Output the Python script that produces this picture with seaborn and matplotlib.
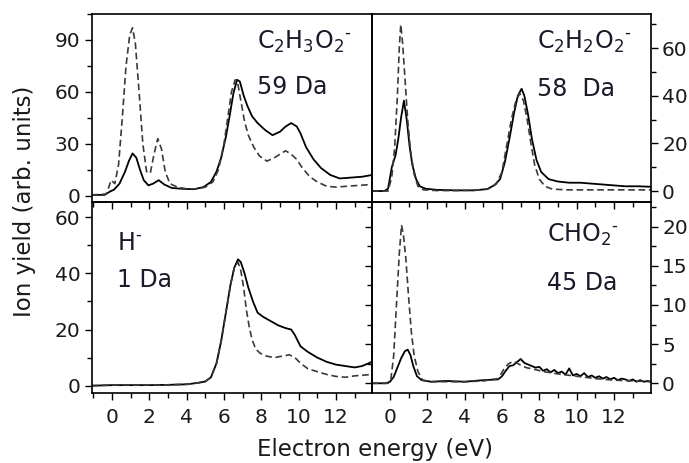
import matplotlib
matplotlib.use("Agg")
import matplotlib.pyplot as plt
import seaborn as sns
from matplotlib.ticker import MultipleLocator

# ---------------- data ----------------
# C2H3O2-  (59 Da), top-left
c2h3o2_solid_x = [-1.1, -0.4, -0.1, 0.1, 0.4, 0.7, 0.9, 1.1, 1.3, 1.5,
                  1.7, 1.95, 2.2, 2.5, 2.8, 3.2, 3.8, 4.4, 4.9, 5.3,
                  5.6, 5.85, 6.1, 6.3, 6.5, 6.7, 6.85, 7.05, 7.25, 7.5,
                  7.8, 8.2, 8.6, 9.0, 9.3, 9.6, 9.9, 10.1, 10.4, 10.8,
                  11.2, 11.7, 12.2, 12.8, 13.4, 13.93]
c2h3o2_solid_y = [0.5, 0.5, 2.5, 3.5, 7, 14, 20, 24.5, 22, 15,
                  9, 6, 7, 9, 6.5, 4.5, 4, 3.8, 5, 8,
                  14, 22, 34, 46, 59, 67, 66, 58, 52, 46,
                  42, 38, 35, 37, 40, 42, 40, 36, 28, 21,
                  16, 12, 10, 10.5, 11, 12]
c2h3o2_dash_x = [-1.1, -0.3, -0.05, 0.15, 0.35, 0.55, 0.75, 0.95, 1.1, 1.25,
                 1.45, 1.65, 1.85, 2.05, 2.25, 2.45, 2.65, 2.85, 3.1, 3.5,
                 4.0, 4.5, 5.0, 5.4, 5.7, 6.0, 6.2, 6.4, 6.6, 6.72,
                 6.9, 7.1, 7.3, 7.6, 7.9, 8.3, 8.7, 9.0, 9.3, 9.6,
                 9.9, 10.2, 10.6, 11.0, 11.5, 12.0, 12.6, 13.2, 13.93]
c2h3o2_dash_y = [0.5, 1, 9, 7, 18, 45, 75, 93, 97, 88,
                 60, 30, 14, 13, 24, 33, 27, 14, 7, 5,
                 4, 4, 5, 8, 15, 30, 45, 60, 67, 66,
                 55, 43, 35, 28, 23, 20, 22, 24, 26, 24,
                 21, 16, 11, 8, 5.5, 5, 5.5, 6, 6.5]

# C2H2O2-  (58 Da), top-right
c2h2o2_solid_x = [-0.96, -0.3, -0.1, 0.1, 0.3, 0.45, 0.6, 0.75, 0.9, 1.05,
                  1.2, 1.4, 1.6, 1.9, 2.5, 3.5, 4.5, 5.2, 5.6, 5.9,
                  6.15, 6.4, 6.65, 6.85, 7.05, 7.2, 7.4, 7.6, 7.85, 8.1,
                  8.5, 9.0, 9.6, 10.2, 11.0, 11.8, 12.6, 13.3, 13.98]
c2h2o2_solid_y = [0, 0, 1, 10, 15, 22, 31, 38, 30, 19,
                  11, 5, 2, 1, 0.5, 0.3, 0.3, 0.8, 2.5, 5,
                  12, 22, 33, 40, 43, 40, 32, 22, 13, 8,
                  5, 4, 3.5, 3.5, 3, 2.5, 2, 2, 1.8]
c2h2o2_dash_x = [-0.96, -0.1, 0.1, 0.25, 0.4, 0.5, 0.58, 0.68, 0.8, 0.95,
                 1.1, 1.3, 1.5, 1.8, 2.5, 3.5, 4.5, 5.3, 5.7, 6.0,
                 6.25, 6.5, 6.75, 6.95, 7.15, 7.35, 7.55, 7.75, 8.0, 8.3,
                 8.7, 9.5, 10.5, 11.5, 12.5, 13.98]
c2h2o2_dash_y = [0, 0, 6, 18, 40, 60, 70, 62, 48, 30,
                 17, 7, 2, 0.5, 0.2, 0.2, 0.3, 1, 3, 8,
                 19, 30, 38, 41, 38, 30, 20, 11, 5, 2,
                 0.8, 0.5, 0.5, 0.5, 0.5, 0.5]

# H-  (1 Da), bottom-left
h_solid_x = [-1.1, 0, 1, 2, 3, 4, 4.6, 5.0, 5.3, 5.6,
             5.85, 6.1, 6.35, 6.55, 6.75, 6.9, 7.1, 7.3, 7.55, 7.8,
             8.1, 8.5, 8.9, 9.3, 9.6, 9.8, 10.1, 10.5, 11.0, 11.5,
             12.0, 12.5, 13.0, 13.4, 13.93]
h_solid_y = [0, 0.2, 0.2, 0.2, 0.3, 0.5, 1, 1.5, 3, 8,
             16, 26, 36, 42, 45, 44, 40, 35, 30, 26,
             24.5, 23, 21.5, 20.5, 20, 18, 14, 12, 10, 8.5,
             7.5, 7, 6.5, 7, 8.5]
h_dash_x = [-1.1, 0, 1, 2, 3, 4, 4.6, 5.0, 5.3, 5.6,
            5.85, 6.1, 6.35, 6.55, 6.75, 6.9, 7.05, 7.2, 7.35, 7.5,
            7.7, 7.95, 8.3, 8.7, 9.1, 9.5, 9.8, 10.1, 10.5, 11.0,
            11.5, 12.0, 12.5, 13.0, 13.93]
h_dash_y = [0, 0.2, 0.2, 0.2, 0.3, 0.5, 1, 1.5, 3, 8,
            16, 26, 36, 42, 44, 41, 35, 27, 21, 16.5,
            13, 11.5, 10.5, 10, 10.5, 11, 10, 8, 6, 5,
            4, 3.3, 3, 3.5, 4]

# CHO2-  (45 Da), bottom-right
cho2_solid_x = [-0.96, -0.2, 0.0, 0.2, 0.4, 0.6, 0.8, 0.95, 1.1, 1.25,
                1.45, 1.7, 2.2, 3.0, 4.0, 5.0,
                5.8, 6.0, 6.2, 6.4, 6.6, 6.8, 7.0, 7.2, 7.4, 7.6,
                7.8, 8.0, 8.2, 8.4, 8.6, 8.8, 9.0, 9.2, 9.4, 9.6,
                9.8, 10.0, 10.2, 10.4, 10.6, 10.8, 11.0, 11.2, 11.4, 11.6,
                11.8, 12.0, 12.2, 12.4, 12.6, 12.8, 13.0, 13.2, 13.4, 13.6,
                13.8, 13.98]
cho2_solid_y = [0, 0, 0.2, 0.8, 2.0, 3.2, 4.1, 4.3, 3.6, 2.2,
                0.9, 0.4, 0.2, 0.3, 0.2, 0.4,
                0.5, 0.9, 1.6, 2.2, 2.3, 2.7, 3.1, 2.6, 2.4, 2.2,
                2.0, 2.1, 1.6, 1.8, 1.4, 1.7, 1.3, 1.5, 1.1, 1.9,
                1.0, 1.2, 0.9, 1.3, 0.8, 1.0, 0.7, 0.9, 0.6, 0.8,
                0.5, 0.7, 0.4, 0.6, 0.5, 0.3, 0.5, 0.2, 0.4, 0.2,
                0.3, 0.2]
cho2_dash_x = [-0.96, -0.1, 0.05, 0.2, 0.35, 0.5, 0.62, 0.72, 0.85, 1.0,
               1.15, 1.3, 1.5, 1.75, 2.2, 3, 4, 5, 5.8, 6.1,
               6.35, 6.6, 6.8, 7.0, 7.3, 7.7, 8.2, 9, 10, 11,
               12, 13, 13.98]
cho2_dash_y = [0, 0, 0.5, 3.5, 10, 16.5, 20.2, 19, 16, 11,
               6.5, 3.5, 1.5, 0.4, 0.2, 0.2, 0.2, 0.3, 0.6, 1.8,
               2.5, 2.8, 2.6, 2.3, 2.0, 1.8, 1.5, 1.2, 0.9, 0.6,
               0.4, 0.3, 0.2]

panel_labels = ["C$_2$H$_3$O$_2$$^{\u2010}$", "C$_2$H$_2$O$_2$$^{\u2010}$",
                "H$^{\u2010}$", "CHO$_2$$^{\u2010}$"]
mass_labels = ["59 Da", "58  Da", "1 Da", "45 Da"]
x_label = "Electron energy (eV)"
y_label = "Ion yield (arb. units)"

# ---------------- style ----------------
sns.set_style("ticks")
plt.rcParams["font.family"] = ["DejaVu Sans"]
plt.rcParams["mathtext.default"] = "regular"

fig = plt.figure(figsize=(6.89, 4.63), dpi=100)
L, M, R = 91.5 / 689, 372 / 689, 651 / 689
T, C, B = 1 - 14 / 463, 1 - 202 / 463, 1 - 393 / 463

ax_tl = fig.add_axes([L, C, M - L, T - C])
ax_tr = fig.add_axes([M, C, R - M, T - C])
ax_bl = fig.add_axes([L, B, M - L, C - B])
ax_br = fig.add_axes([M, B, R - M, C - B])


def style(ax, xlim, ylim, ymaj, ymin, side, xlabels, left_ticks=False):
    ax.patch.set_visible(False)
    ax.set_xlim(*xlim)
    ax.set_ylim(*ylim)
    ax.xaxis.set_major_locator(MultipleLocator(2))
    ax.xaxis.set_minor_locator(MultipleLocator(1))
    ax.yaxis.set_major_locator(MultipleLocator(ymaj))
    ax.yaxis.set_minor_locator(MultipleLocator(ymin))
    ax.tick_params(which="both", direction="out", width=1.0, color="black",
                   labelsize=14.5, labelcolor="#1a1a1a")
    ax.tick_params(which="major", length=5)
    ax.tick_params(which="minor", length=3.5)
    ax.tick_params(axis="x", which="both", bottom=True, top=False,
                   labelbottom=xlabels, pad=6)
    if side == "left":
        ax.tick_params(axis="y", which="both", left=True, right=False,
                       labelleft=True, labelright=False, pad=3)
    else:
        ax.tick_params(axis="y", which="both", right=True, labelright=True,
                       left=left_ticks, labelleft=False, pad=3)
    for s in ax.spines.values():
        s.set_visible(True)
        s.set_linewidth(1.2)
        s.set_color("black")
    ax.set_xlabel("")
    ax.set_ylabel("")


panels = [
    (ax_tl, c2h3o2_solid_x, c2h3o2_solid_y, c2h3o2_dash_x, c2h3o2_dash_y),
    (ax_tr, c2h2o2_solid_x, c2h2o2_solid_y, c2h2o2_dash_x, c2h2o2_dash_y),
    (ax_bl, h_solid_x, h_solid_y, h_dash_x, h_dash_y),
    (ax_br, cho2_solid_x, cho2_solid_y, cho2_dash_x, cho2_dash_y),
]
for ax, sx, sy, dx, dy in panels:
    sns.lineplot(x=sx, y=sy, ax=ax, color="black", linewidth=1.3,
                 estimator=None, sort=False)
    sns.lineplot(x=dx, y=dy, ax=ax, color="#3a3a3a", linewidth=1.2,
                 linestyle=(0, (4, 2.2)), estimator=None, sort=False)

style(ax_tl, (-1.1, 13.93), (-3.6, 105), 30, 15, "left", False)
style(ax_tr, (-0.96, 13.98), (-4.6, 74.4), 20, 10, "right", False)
style(ax_bl, (-1.1, 13.93), (-2.6, 65.4), 20, 10, "left", True)
style(ax_br, (-0.96, 13.98), (-1.24, 23.15), 5, 2.5, "right", True, left_ticks=True)

txt_kw = dict(fontsize=17, color="#1a1a2a", va="baseline", ha="left")
ax_tl.text(0.589, 0.814, panel_labels[0], transform=ax_tl.transAxes, **txt_kw)
ax_tl.text(0.589, 0.574, mass_labels[0], transform=ax_tl.transAxes, **txt_kw)
ax_tr.text(0.591, 0.814, panel_labels[1], transform=ax_tr.transAxes, **txt_kw)
ax_tr.text(0.591, 0.565, mass_labels[1], transform=ax_tr.transAxes, **txt_kw)
ax_bl.text(0.09, 0.749, panel_labels[2], transform=ax_bl.transAxes, **txt_kw)
ax_bl.text(0.09, 0.553, mass_labels[2], transform=ax_bl.transAxes, **txt_kw)
ax_br.text(0.627, 0.792, panel_labels[3], transform=ax_br.transAxes, **txt_kw)
ax_br.text(0.627, 0.539, mass_labels[3], transform=ax_br.transAxes, **txt_kw)

fig.text(0.036, 0.566, y_label, rotation=90, va="center", ha="center",
         fontsize=16.5, color="#1a1a1a")
fig.text(0.544, 0.004, x_label, va="bottom", ha="center",
         fontsize=16.5, color="#1a1a1a")

fig.savefig("out.png", dpi=100, facecolor="white")
